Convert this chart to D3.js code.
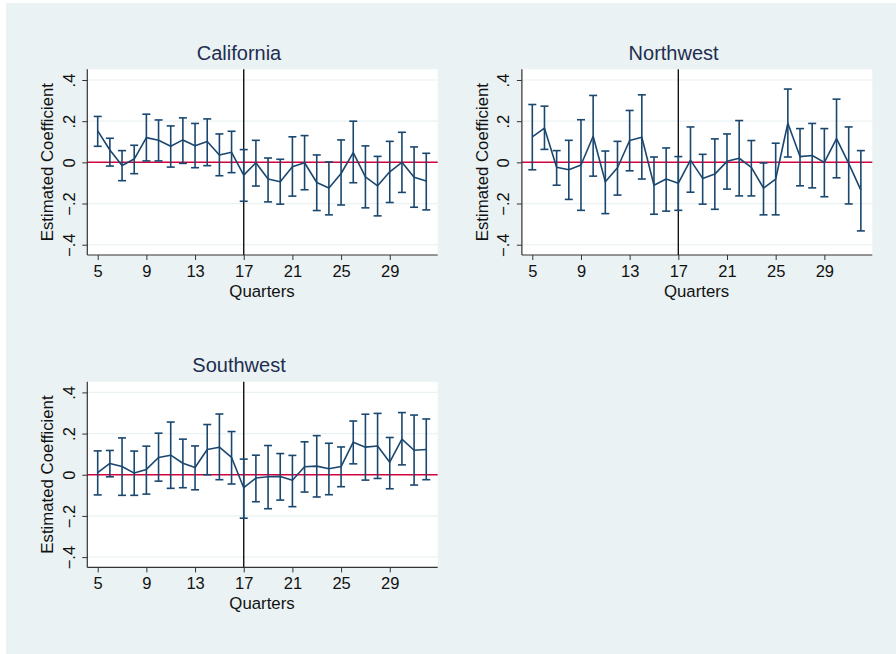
<!DOCTYPE html>
<html><head><meta charset="utf-8">
<script src="https://cdn.jsdelivr.net/npm/d3@7"></script>
<style>html,body{margin:0;padding:0;background:#fff}svg{display:block}text{font-family:"Liberation Sans",Arial,sans-serif}</style>
</head><body>
<svg id="c" width="896" height="654"></svg>
<script>
const quarters = d3.range(5, 33);
const xTicks = [5, 9, 13, 17, 21, 25, 29];
const yTicks = [-0.4, -0.2, 0, 0.2, 0.4];
const yTickLabels = ["\u2212.4", "\u2212.2", "0", ".2", ".4"];
const titles = ["California", "Northwest", "Southwest"];
const eventQuarter = 17;

const caCoef = [0.153,0.060,-0.015,0.016,0.120,0.107,0.078,0.109,0.081,0.101,0.036,0.049,-0.062,-0.002,-0.081,-0.094,-0.021,-0.002,-0.098,-0.125,-0.054,0.047,-0.070,-0.114,-0.046,0.000,-0.072,-0.091];
const caHi   = [0.223,0.117,0.057,0.083,0.234,0.206,0.177,0.216,0.189,0.211,0.138,0.151,0.062,0.107,0.021,0.015,0.124,0.130,0.036,0.002,0.109,0.200,0.080,0.029,0.102,0.146,0.075,0.044];
const caLo   = [0.078,-0.018,-0.089,-0.055,0.007,0.007,-0.023,-0.005,-0.026,-0.016,-0.065,-0.050,-0.189,-0.115,-0.192,-0.203,-0.164,-0.133,-0.234,-0.255,-0.207,-0.099,-0.221,-0.260,-0.195,-0.146,-0.218,-0.231];

const nwCoef = [0.124,0.166,-0.024,-0.036,-0.013,0.127,-0.094,-0.026,0.106,0.122,-0.111,-0.081,-0.101,0.011,-0.078,-0.057,0.005,0.020,-0.024,-0.125,-0.081,0.190,0.028,0.033,0.000,0.115,-0.005,-0.135];
const nwHi   = [0.281,0.273,0.057,0.107,0.207,0.325,0.055,0.102,0.252,0.328,0.026,0.070,0.028,0.172,0.039,0.114,0.138,0.203,0.106,-0.003,0.093,0.356,0.164,0.189,0.164,0.307,0.172,0.057];
const nwLo   = [-0.036,0.063,-0.111,-0.180,-0.233,-0.067,-0.249,-0.159,-0.041,-0.081,-0.252,-0.237,-0.233,-0.145,-0.203,-0.228,-0.130,-0.163,-0.163,-0.255,-0.255,0.026,-0.114,-0.124,-0.167,-0.075,-0.202,-0.333];

const swCoef = [0.010,0.055,0.040,0.008,0.026,0.084,0.095,0.056,0.035,0.123,0.134,0.084,-0.063,-0.016,-0.010,-0.008,-0.027,0.039,0.042,0.029,0.040,0.158,0.134,0.140,0.061,0.173,0.119,0.123];
const swHi   = [0.116,0.118,0.179,0.115,0.139,0.202,0.256,0.173,0.140,0.244,0.295,0.210,0.076,0.095,0.142,0.103,0.094,0.160,0.190,0.153,0.135,0.261,0.294,0.298,0.181,0.302,0.290,0.271];
const swLo   = [-0.098,-0.010,-0.100,-0.100,-0.094,-0.031,-0.066,-0.063,-0.073,0.000,-0.024,-0.045,-0.211,-0.131,-0.165,-0.123,-0.155,-0.084,-0.108,-0.097,-0.058,0.053,-0.026,-0.018,-0.068,0.048,-0.050,-0.024];

const coefs = [caCoef, nwCoef, swCoef];
const his = [caHi, nwHi, swHi];
const los = [caLo, nwLo, swLo];
const offsets = [[0,0],[434.6,0],[0,312.4]];

const svg = d3.select("#c");
svg.append("rect").attr("x",6).attr("y",3).attr("width",890).attr("height",651).attr("fill","#eaf2f3");

const navy = "#1a476f";
const W0 = 87.3, W1 = 437.7, H0 = 69.3, H1 = 255;

titles.forEach((t, i) => {
  const [ox, oy] = offsets[i];
  const g = svg.append("g").attr("transform", `translate(${ox},${oy})`);
  const x = d3.scaleLinear().domain([4.145, 32.94]).range([W0, W1]);
  const y = d3.scaleLinear().domain([-0.45, 0.452]).range([H1, H0]);

  g.append("rect").attr("x",W0).attr("y",H0).attr("width",W1-W0).attr("height",H1-H0).attr("fill","#fff");

  g.selectAll(".grid").data(yTicks.filter(v => v !== 0)).join("line")
    .attr("x1",W0).attr("x2",W1).attr("y1",d=>y(d)).attr("y2",d=>y(d))
    .attr("stroke","#eaf2f3").attr("stroke-width",1.2);

  g.append("line").attr("x1",W0).attr("x2",W1).attr("y1",y(0)).attr("y2",y(0))
    .attr("stroke","#d0043c").attr("stroke-width",1.5);
  g.append("line").attr("x1",x(eventQuarter)).attr("x2",x(eventQuarter)).attr("y1",H0).attr("y2",H1)
    .attr("stroke","#111").attr("stroke-width",1.4);

  const eb = g.append("g").attr("stroke",navy).attr("stroke-width",1.6).attr("fill","none");
  quarters.forEach((q, k) => {
    const xx = x(q);
    eb.append("line").attr("x1",xx).attr("x2",xx).attr("y1",y(los[i][k])).attr("y2",y(his[i][k]));
    eb.append("line").attr("x1",xx-4).attr("x2",xx+4).attr("y1",y(los[i][k])).attr("y2",y(los[i][k]));
    eb.append("line").attr("x1",xx-4).attr("x2",xx+4).attr("y1",y(his[i][k])).attr("y2",y(his[i][k]));
  });
  g.append("path").datum(quarters.map((q,k)=>[q, coefs[i][k]]))
    .attr("d", d3.line().x(d=>x(d[0])).y(d=>y(d[1])))
    .attr("fill","none").attr("stroke",navy).attr("stroke-width",1.6).attr("stroke-linejoin","round");

  const xa = g.append("g").attr("transform",`translate(0,${H1})`)
    .call(d3.axisBottom(x).tickValues(xTicks).tickSize(5).tickSizeOuter(0).tickPadding(5));
  xa.select(".domain").attr("d",`M${W0},0H${W1}`).attr("stroke","#333").attr("stroke-width",1.2);
  xa.selectAll(".tick line").attr("stroke","#333");
  xa.selectAll(".tick text").attr("font-size",16.5).attr("fill","#111").attr("font-family","Liberation Sans, Arial");

  const ya = g.append("g").attr("transform",`translate(${W0},0)`)
    .call(d3.axisLeft(y).tickValues(yTicks).tickFormat((d,j)=>yTickLabels[j]).tickSize(5).tickSizeOuter(0));
  ya.select(".domain").attr("d",`M0,${H0}V${H1}`).attr("stroke","#333").attr("stroke-width",1.2);
  ya.selectAll(".tick line").attr("stroke","#333");
  ya.selectAll(".tick text").attr("font-size",16.5).attr("fill","#111").attr("font-family","Liberation Sans, Arial")
    .attr("transform","rotate(-90)").attr("x",0).attr("y",-12.5).attr("dy",0).attr("text-anchor","middle");

  g.append("text").attr("x",x(18.5)).attr("y",297).attr("text-anchor","middle")
    .attr("font-size",16.8).attr("fill","#111").text("Quarters");
  g.append("text").attr("transform",`translate(53,${(H0+H1)/2}) rotate(-90)`).attr("text-anchor","middle")
    .attr("font-size",16.8).attr("fill","#111").text("Estimated Coefficient");
  g.append("text").attr("x",239).attr("y",60).attr("text-anchor","middle")
    .attr("font-size",20).attr("fill","#1e2d50").text(t);
});
</script>
</body></html>
